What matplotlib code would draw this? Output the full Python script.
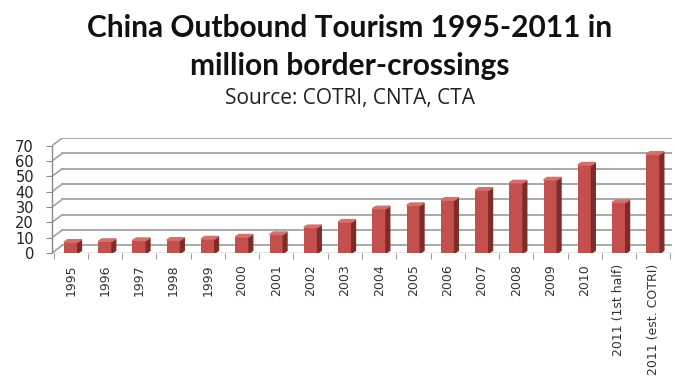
import matplotlib.pyplot as plt
from matplotlib.patches import Polygon

years = ["1995", "1996", "1997", "1998", "1999", "2000", "2001", "2002", "2003",
         "2004", "2005", "2006", "2007", "2008", "2009", "2010",
         "2011 (1st half)", "2011 (est. COTRI)"]
crossings = [7.1, 7.6, 8.2, 8.4, 9.2, 10.5, 12.1, 16.6, 20.2,
             28.9, 31.0, 34.5, 41.0, 45.8, 47.7, 57.4, 33.0, 64.5]
yticks = [0, 10, 20, 30, 40, 50, 60, 70]

# fake 3d depth (data units)
depth_x = 0.3
depth_y = 5
bar_w = 0.40
side_x = 0.11
side_y = 1.6

fig = plt.figure(figsize=(6.75, 3.81), dpi=100)
ax = fig.add_axes([52 / 675, 1 - 253 / 381, 620 / 675, 115 / 381])
xs = list(range(len(years)))
x0, x1 = -0.55, len(years) - 0.45
ax.set_xlim(x0, x1)
ax.set_ylim(0, 75)

# back wall gridlines + slanted side wall
for t in yticks:
    ax.plot([x0 + depth_x, x1], [t + depth_y, t + depth_y], color="#a3a3a3", lw=1.3, zorder=1)
    ax.plot([x0, x0 + depth_x], [t, t + depth_y], color="#a3a3a3", lw=1.2, zorder=1)
ax.plot([x0, x0], [0, 70], color="#8a8a8a", lw=1.0, zorder=1, clip_on=False)

# bars: front face, side face, top face
bars = ax.bar(xs, crossings, width=bar_w, color="#c4504d", zorder=3)
for b, v in zip(bars, crossings):
    r = b.get_x() + b.get_width()
    l = b.get_x()
    side = Polygon([(r, 0), (r + side_x, side_y), (r + side_x, v + side_y), (r, v)],
                   closed=True, color="#7e2b29", zorder=3)
    top = Polygon([(l, v), (r, v), (r + side_x, v + side_y), (l + side_x, v + side_y)],
                  closed=True, color="#d2726f", zorder=3)
    ax.add_patch(side)
    ax.add_patch(top)

for s in ax.spines.values():
    s.set_visible(False)
ax.axhline(0, color="#8a8a8a", lw=1.0, zorder=2)

ax.set_yticks(yticks)
ax.set_yticklabels([str(t) for t in yticks], fontsize=10.5, color="#222222")
ax.tick_params(axis="y", length=4, color="#8a8a8a", pad=9)

# ticks between categories
ax.set_xticks([x - 0.5 for x in xs] + [xs[-1] + 0.5], minor=True)
ax.set_xticks(xs)
ax.set_xticklabels(years, rotation=90, fontsize=9, color="#333333")
ax.tick_params(axis="x", which="major", length=0, pad=8)
ax.tick_params(axis="x", which="minor", length=4, color="#8a8a8a")

cx = 350 / 675
fig.text(cx, 1 - 37 / 381, "China Outbound Tourism 1995-2011 in", ha="center", va="baseline",
         fontsize=21.5, fontweight="bold", family="Lato", color="#111111")
fig.text(cx, 1 - 75 / 381, "million border-crossings", ha="center", va="baseline",
         fontsize=21.5, fontweight="bold", family="Lato", color="#111111")
fig.text(cx, 1 - 104 / 381, "Source: COTRI, CNTA, CTA", ha="center", va="baseline",
         fontsize=15, family="Open Sans", color="#222222")

fig.savefig("out.png", dpi=100, facecolor="white")
plt.close(fig)
